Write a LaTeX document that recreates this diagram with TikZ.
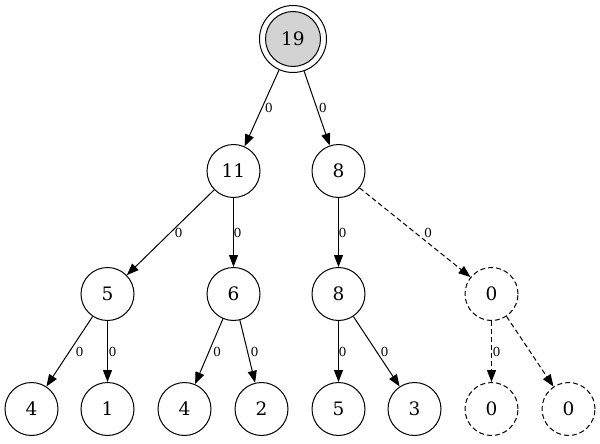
\documentclass[tikz,border=0pt]{standalone}
\usepackage{fontspec}
\setmainfont{DejaVu Serif}
\usetikzlibrary{arrows.meta}
\tikzset{
  vtx/.style={circle, draw, line width=1pt, minimum size=53pt, inner sep=0pt, font=\fontsize{18.5}{21}\selectfont},
  dvtx/.style={vtx, dash pattern=on 5pt off 3pt},
  edge/.style={line width=1pt, -{Triangle[length=12pt,width=9pt]}},
  dedge/.style={edge, dash pattern=on 5pt off 3pt},
  lbl/.style={font=\fontsize{12.5}{14}\selectfont, inner sep=0pt, fill=none}
}
\begin{document}
\begin{tikzpicture}[x=1pt,y=-1pt]
\useasboundingbox (0,0) rectangle (600,444);
\node[vtx, minimum size=67pt] (r) at (293,39) {};
\node[vtx, minimum size=55pt, fill={rgb,255:red,211;green,211;blue,211}] (ri) at (r) {19};
\node[vtx] (a) at (233.5,171) {11};
\node[vtx] (b) at (338.5,171) {8};
\node[vtx] (c) at (107.5,294) {5};
\node[vtx] (d) at (233.5,294) {6};
\node[vtx] (e) at (338.5,294) {8};
\node[dvtx] (f) at (491.5,294) {0};
\node[vtx] (g) at (31.5,409) {4};
\node[vtx] (h) at (107.5,409) {1};
\node[vtx] (i) at (184.5,409) {4};
\node[vtx] (j) at (261.5,409) {2};
\node[vtx] (k) at (338.5,409) {5};
\node[vtx] (l) at (414.5,409) {3};
\node[dvtx] (m) at (491.5,409) {0};
\node[dvtx] (n) at (568.5,409) {0};
\draw[edge] (r) -- node[lbl, pos=0.5, xshift=7pt] {0} (a);
\draw[edge] (r) -- node[lbl, pos=0.5, xshift=6pt] {0} (b);
\draw[edge] (a) -- node[lbl, pos=0.5, xshift=8pt] {0} (c);
\draw[edge] (a) -- node[lbl, pos=0.5, xshift=4pt] {0} (d);
\draw[edge] (b) -- node[lbl, pos=0.5, xshift=4pt] {0} (e);
\draw[dedge] (b) -- node[lbl, pos=0.5, xshift=13pt] {0} (f);
\draw[edge] (c) -- node[lbl, pos=0.5, xshift=10pt] {0} (g);
\draw[edge] (c) -- node[lbl, pos=0.5, xshift=5pt] {0} (h);
\draw[edge] (d) -- node[lbl, pos=0.5, xshift=8pt] {0} (i);
\draw[edge] (d) -- node[lbl, pos=0.5, xshift=7pt] {0} (j);
\draw[edge] (e) -- node[lbl, pos=0.5, xshift=4pt] {0} (k);
\draw[edge] (e) -- node[lbl, pos=0.5, xshift=8pt] {0} (l);
\draw[dedge] (f) -- node[lbl, pos=0.5, xshift=5pt] {0} (m);
\draw[dedge] (f) -- (n);
\end{tikzpicture}
\end{document}
